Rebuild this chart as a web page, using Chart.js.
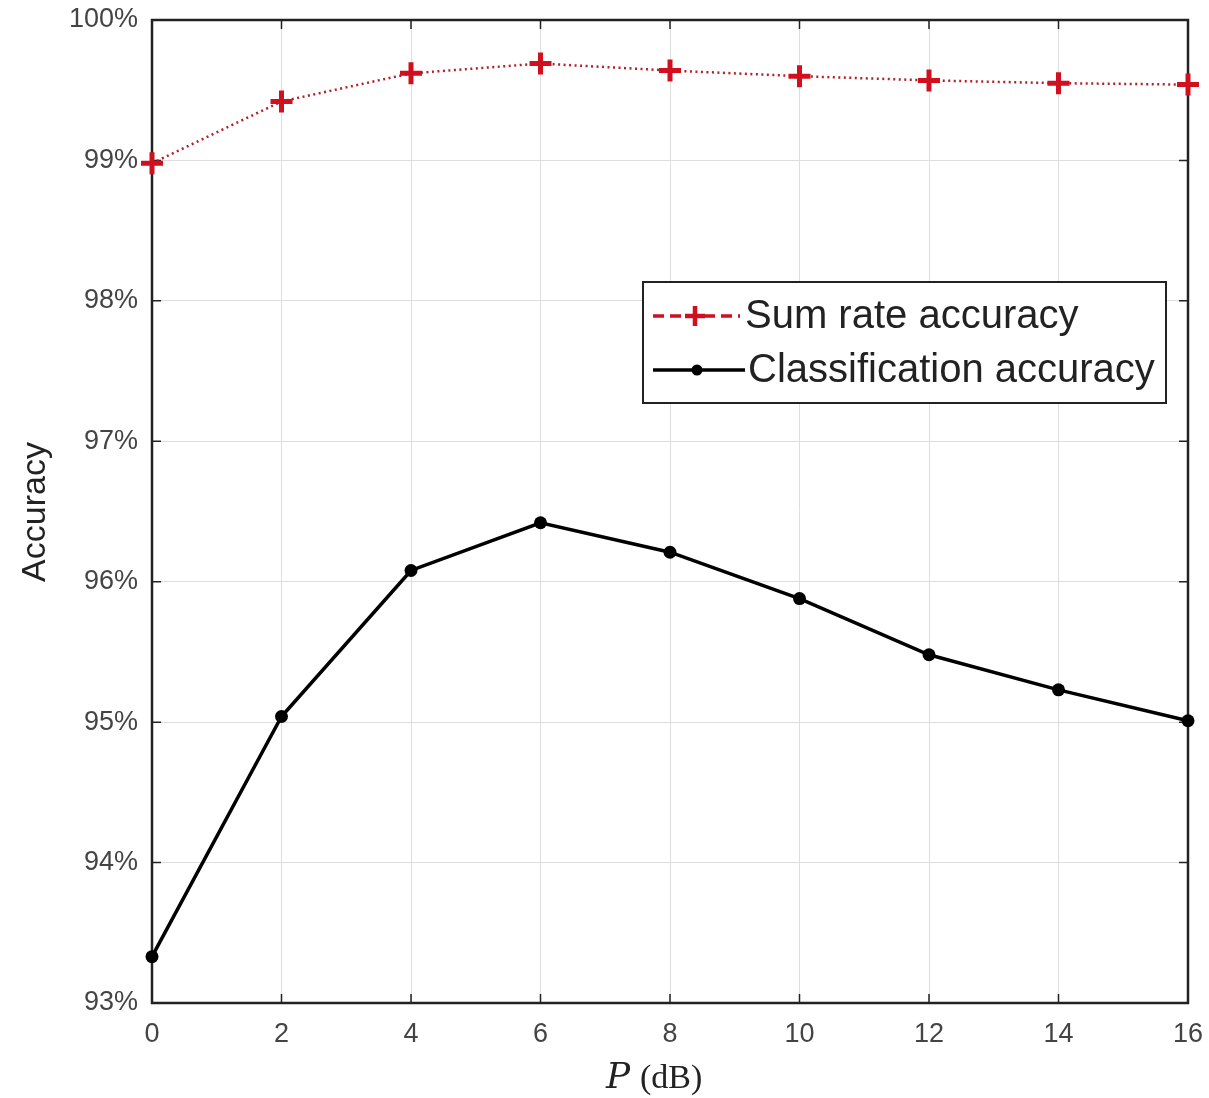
<!DOCTYPE html>
<html><head><meta charset="utf-8">
<script src="https://cdn.jsdelivr.net/npm/chart.js@4.4.0/dist/chart.umd.min.js"></script>
<style>html,body{margin:0;padding:0;background:#fff}#wrap{width:1209px;height:1098px}</style>
</head><body><div id="wrap"><canvas id="c" width="1209" height="1098"></canvas></div>
<script>
const powerDb = [0, 2, 4, 6, 8, 10, 12, 14, 16];
const sumRateAccuracy = [98.98, 99.42, 99.62, 99.69, 99.64, 99.60, 99.57, 99.55, 99.54];
const classificationAccuracy = [93.33, 95.04, 96.08, 96.42, 96.21, 95.88, 95.48, 95.23, 95.01];
const xTicks = [0, 2, 4, 6, 8, 10, 12, 14, 16];
const yTicks = [93, 94, 95, 96, 97, 98, 99, 100];
const seriesLabels = ['Sum rate accuracy', 'Classification accuracy'];
const xTitleItalic = 'P';
const xTitleRest = '(dB)';
const yTitle = 'Accuracy';

const RED = '#d0101e';
const LINE_RED = '#b0202a';

const decor = {
  id: 'decor',
  beforeDatasetsDraw(chart) {
    const {ctx, chartArea: a} = chart;
    const xs = chart.scales.x, ys = chart.scales.y;
    ctx.save();
    ctx.strokeStyle = '#222';
    ctx.lineWidth = 1.5;
    xTicks.forEach(v => {
      const px = xs.getPixelForValue(v);
      ctx.beginPath();
      ctx.moveTo(px, a.bottom); ctx.lineTo(px, a.bottom - 9);
      ctx.moveTo(px, a.top); ctx.lineTo(px, a.top + 9);
      ctx.stroke();
    });
    yTicks.forEach(v => {
      const py = ys.getPixelForValue(v);
      ctx.beginPath();
      ctx.moveTo(a.left, py); ctx.lineTo(a.left + 9, py);
      ctx.moveTo(a.right, py); ctx.lineTo(a.right - 9, py);
      ctx.stroke();
    });
    ctx.lineWidth = 2.5;
    ctx.strokeRect(a.left, a.top, a.right - a.left, a.bottom - a.top);
    ctx.restore();
  },
  afterDraw(chart) {
    const {ctx} = chart;
    ctx.save();
    ctx.fillStyle = '#222';
    ctx.font = '34px "Liberation Sans", Arial, sans-serif';
    ctx.textAlign = 'center';
    ctx.textBaseline = 'middle';
    ctx.translate(36, 512);
    ctx.rotate(-Math.PI / 2);
    ctx.fillText(yTitle, 0, 0);
    ctx.restore();

    ctx.save();
    ctx.fillStyle = '#222';
    ctx.textBaseline = 'alphabetic';
    ctx.textAlign = 'left';
    ctx.font = 'italic 36px "DejaVu Serif", "Liberation Serif", serif';
    ctx.fillText(xTitleItalic, 606, 1088);
    ctx.font = '34px "Liberation Serif", serif';
    ctx.fillText(xTitleRest, 640, 1088);
    ctx.restore();

    ctx.save();
    const bx = 643, by = 282, bw = 523, bh = 121;
    ctx.fillStyle = '#fff';
    ctx.fillRect(bx, by, bw, bh);
    ctx.strokeStyle = '#222';
    ctx.lineWidth = 2;
    ctx.strokeRect(bx, by, bw, bh);
    const ds = chart.data.datasets;
    const y1 = 316;
    ctx.strokeStyle = RED;
    ctx.lineWidth = 3.5;
    ctx.setLineDash([11, 6]);
    ctx.beginPath(); ctx.moveTo(653, y1); ctx.lineTo(740, y1); ctx.stroke();
    ctx.setLineDash([]);
    ctx.lineWidth = 4.5;
    ctx.beginPath();
    ctx.moveTo(685, y1); ctx.lineTo(705, y1);
    ctx.moveTo(695, y1 - 10); ctx.lineTo(695, y1 + 10);
    ctx.stroke();
    const y2 = 370;
    ctx.strokeStyle = '#000';
    ctx.lineWidth = 3.5;
    ctx.beginPath(); ctx.moveTo(653, y2); ctx.lineTo(745, y2); ctx.stroke();
    ctx.fillStyle = '#000';
    ctx.beginPath(); ctx.arc(697, y2, 5.5, 0, Math.PI * 2); ctx.fill();

    ctx.fillStyle = '#222';
    ctx.font = '40px "Liberation Sans", Arial, sans-serif';
    ctx.textAlign = 'left';
    ctx.textBaseline = 'middle';
    ctx.fillText(ds[0].label, 745, y1 + 1);
    ctx.fillText(ds[1].label, 748, y2 + 1);
    ctx.restore();
  }
};

new Chart(document.getElementById('c'), {
  type: 'line',
  data: {
    datasets: [
      {
        label: seriesLabels[0],
        data: powerDb.map((x, i) => ({x, y: sumRateAccuracy[i]})),
        borderColor: LINE_RED,
        borderWidth: 2.5,
        borderDash: [2, 3.5],
        pointStyle: 'cross',
        pointRadius: 11,
        pointBorderWidth: 5,
        pointBorderColor: RED,
        pointBackgroundColor: RED,
        tension: 0,
        clip: false
      },
      {
        label: seriesLabels[1],
        data: powerDb.map((x, i) => ({x, y: classificationAccuracy[i]})),
        borderColor: '#000',
        borderWidth: 3.5,
        pointStyle: 'circle',
        pointRadius: 6.5,
        pointBorderWidth: 0,
        pointBackgroundColor: '#000',
        tension: 0,
        clip: false
      }
    ]
  },
  options: {
    responsive: false,
    animation: false,
    layout: {padding: {left: 0, top: 20, right: 21, bottom: 0}},
    plugins: {legend: {display: false}, tooltip: {enabled: false}},
    scales: {
      x: {
        type: 'linear', min: 0, max: 16,
        afterFit(s) { s.height = 95; s.paddingLeft = 0; s.paddingRight = 0; },
        afterBuildTicks(s) { s.ticks = xTicks.map(v => ({value: v})); },
        grid: {color: '#dedede', lineWidth: 1, drawTicks: false},
        border: {display: false},
        ticks: {color: '#444', padding: 15, font: {family: '"Liberation Sans", Arial, sans-serif', size: 27}}
      },
      y: {
        type: 'linear', min: 93, max: 100,
        afterFit(s) { s.width = 152; s.paddingTop = 0; s.paddingBottom = 0; },
        afterBuildTicks(s) { s.ticks = yTicks.map(v => ({value: v})); },
        grid: {color: '#dedede', lineWidth: 1, drawTicks: false},
        border: {display: false},
        ticks: {color: '#444', padding: 14, font: {family: '"Liberation Sans", Arial, sans-serif', size: 27},
          callback: v => v + '%'}
      }
    }
  },
  plugins: [decor]
});
</script>
</body></html>
